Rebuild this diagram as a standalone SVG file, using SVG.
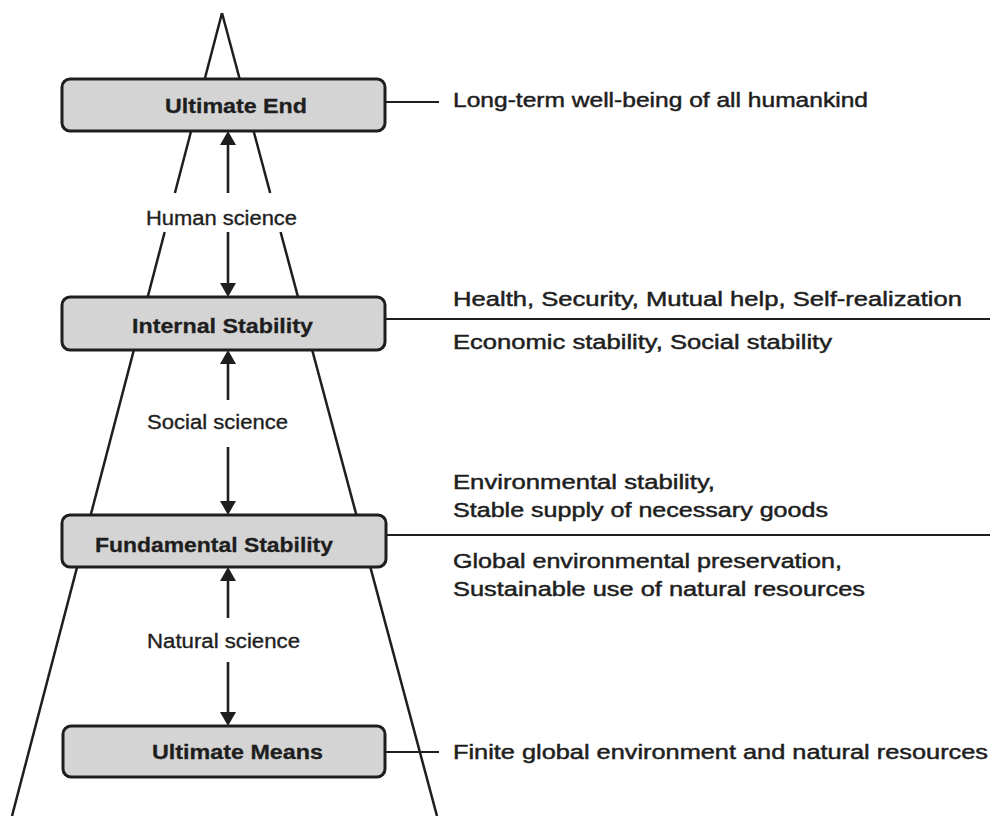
<svg xmlns="http://www.w3.org/2000/svg" width="990" height="816" viewBox="0 0 990 816">
  <style>
    .bg { fill: #ffffff; }
    .edge { stroke: #1e1e1e; stroke-width: 2.5; fill: none; }
    .conn { stroke: #1e1e1e; stroke-width: 2.2; fill: none; }
    .arrow { stroke: #1e1e1e; stroke-width: 2.6; fill: none; marker-end: url(#head); }
    .box { fill: #d4d4d4; stroke: #1e1e1e; stroke-width: 3; }
    .boxlabel { font-family: "Liberation Sans", Arial, sans-serif; font-size: 21px; font-weight: bold; fill: #1e1e1e; stroke: #1e1e1e; stroke-width: 0.3; }
    .sci { font-family: "Liberation Sans", Arial, sans-serif; font-size: 20px; fill: #1e1e1e; stroke: #1e1e1e; stroke-width: 0.35; }
    .note { font-family: "Liberation Sans", Arial, sans-serif; font-size: 19.5px; fill: #1e1e1e; stroke: #1e1e1e; stroke-width: 0.45; }
  </style>
  <defs>
    <marker id="head" markerUnits="userSpaceOnUse" markerWidth="16" markerHeight="16" refX="11" refY="8" orient="auto">
      <path d="M0,0 L14,8 L0,16 Z" fill="#1e1e1e"/>
    </marker>
  </defs>
  <rect class="bg" x="0" y="0" width="990" height="816"/>

  <g id="pyramid">
    <line class="edge" x1="222" y1="13" x2="174.9" y2="193"/>
    <line class="edge" x1="164.7" y1="232" x2="12" y2="816"/>
    <line class="edge" x1="222" y1="13" x2="270.2" y2="193"/>
    <line class="edge" x1="280.6" y1="232" x2="437" y2="816"/>
  </g>

  <g id="connectors">
    <line class="arrow" x1="228" y1="193" x2="228" y2="134"/>
    <line class="arrow" x1="228" y1="232" x2="228" y2="294"/>
    <line class="arrow" x1="228" y1="400" x2="228" y2="353"/>
    <line class="arrow" x1="228" y1="447" x2="228" y2="512"/>
    <line class="arrow" x1="228" y1="618" x2="228" y2="570"/>
    <line class="arrow" x1="228" y1="662" x2="228" y2="723"/>
    <line class="conn" x1="385" y1="102" x2="439" y2="102"/>
    <line class="conn" x1="385" y1="319" x2="990" y2="319"/>
    <line class="conn" x1="386" y1="535" x2="990" y2="535"/>
    <line class="conn" x1="385" y1="752" x2="439" y2="752"/>
  </g>

  <g id="ultimate-end">
    <rect class="box" x="62" y="79" width="323" height="52" rx="8"/>
    <text class="boxlabel" x="165" y="113" textLength="142" lengthAdjust="spacingAndGlyphs">Ultimate End</text>
  </g>
  <g id="internal-stability">
    <rect class="box" x="62" y="297" width="323" height="53" rx="8"/>
    <text class="boxlabel" x="132" y="333" textLength="181" lengthAdjust="spacingAndGlyphs">Internal Stability</text>
  </g>
  <g id="fundamental-stability">
    <rect class="box" x="62" y="515" width="324" height="52" rx="8"/>
    <text class="boxlabel" x="95" y="552" textLength="238" lengthAdjust="spacingAndGlyphs">Fundamental Stability</text>
  </g>
  <g id="ultimate-means">
    <rect class="box" x="63" y="726" width="322" height="51" rx="8"/>
    <text class="boxlabel" x="152" y="759" textLength="171" lengthAdjust="spacingAndGlyphs">Ultimate Means</text>
  </g>

  <g id="science-labels">
    <text class="sci" x="146" y="225" textLength="151" lengthAdjust="spacingAndGlyphs">Human science</text>
    <text class="sci" x="147" y="429" textLength="141" lengthAdjust="spacingAndGlyphs">Social science</text>
    <text class="sci" x="147" y="648" textLength="153" lengthAdjust="spacingAndGlyphs">Natural science</text>
  </g>

  <g id="descriptions">
    <text class="note" x="453" y="107" textLength="415" lengthAdjust="spacingAndGlyphs">Long-term well-being of all humankind</text>
    <text class="note" x="453" y="306" textLength="509" lengthAdjust="spacingAndGlyphs">Health, Security, Mutual help, Self-realization</text>
    <text class="note" x="453" y="349" textLength="379" lengthAdjust="spacingAndGlyphs">Economic stability, Social stability</text>
    <text class="note" x="453" y="489" textLength="262" lengthAdjust="spacingAndGlyphs">Environmental stability,</text>
    <text class="note" x="453" y="517" textLength="375" lengthAdjust="spacingAndGlyphs">Stable supply of necessary goods</text>
    <text class="note" x="453" y="568" textLength="389" lengthAdjust="spacingAndGlyphs">Global environmental preservation,</text>
    <text class="note" x="453" y="596" textLength="412" lengthAdjust="spacingAndGlyphs">Sustainable use of natural resources</text>
    <text class="note" x="453" y="759" textLength="535" lengthAdjust="spacingAndGlyphs">Finite global environment and natural resources</text>
  </g>
</svg>
